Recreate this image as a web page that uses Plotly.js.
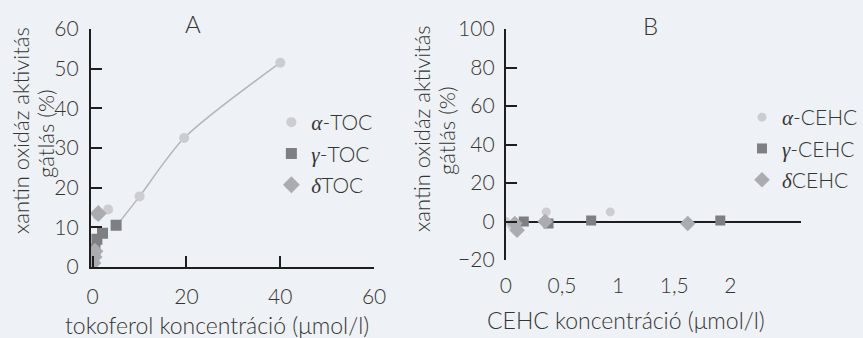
<!DOCTYPE html>
<html><head><meta charset="utf-8">
<script src="https://cdn.plot.ly/plotly-3.0.1.min.js"></script>
<style>html,body{margin:0;padding:0;background:#eef1f5;}</style>
</head><body><div id="chart" style="width:863px;height:338px;"></div>
<script>
// Panel A: tocopherols
const alphaTocX = [0.1, 0.25, 0.5, 1, 3.3, 10, 19.5, 40];
const alphaTocY = [1.5, 3, 5, 13, 14.5, 17.8, 32.5, 51.5];
const gammaTocX = [0.1, 0.5, 0.9, 2.1, 5];
const gammaTocY = [2, 4.5, 7, 8.5, 10.5];
const deltaTocX = [0.05, 0.3, 0.5, 1.2];
const deltaTocY = [1, 2.5, 4, 13.5];
const fitTocX = [5.5, 10, 19.5, 40];
const fitTocY = [11, 17.8, 32.5, 51.5];
// Panel B: CEHC metabolites
const alphaCehcX = [0, 0.05, 0.36, 0.93];
const alphaCehcY = [0, -2, 5, 5];
const gammaCehcX = [0.16, 0.38, 0.76, 1.91];
const gammaCehcY = [0, -1, 0.5, 0.5];
const deltaCehcX = [0.08, 0.1, 0.35, 1.62];
const deltaCehcY = [-1, -4.5, 0, -1];
// tick labels
const tickAVals = [0, 20, 40, 60];
const tickAYVals = [0, 10, 20, 30, 40, 50, 60];
const tickBVals = [0, 0.5, 1, 1.5, 2];
const tickBText = ['0', '0,5', '1', '1,5', '2'];
const tickBYVals = [-20, 0, 20, 40, 60, 80, 100];

const FONT = 'Lato, "Open Sans", sans-serif';
const TXT = '#353535';
const WT = 300;
const g = s => '<span style="font-family:\'Liberation Serif\';font-weight:normal"><i>' + s + '</i></span>';

const cA = '#cbcdd0', cG = '#7d7f82', cD = '#aaacaf';

const traces = [
  {x: fitTocX, y: fitTocY, mode: 'lines', line: {color: '#b4b6b9', width: 1.5, shape: 'spline', smoothing: 0.8},
   showlegend: false, hoverinfo: 'skip', xaxis: 'x', yaxis: 'y'},
  {x: alphaTocX, y: alphaTocY, mode: 'markers', name: g('α') + '-TOC', legend: 'legend', legendgroup: 'a1',
   marker: {symbol: 'circle', size: 10, color: cA}, xaxis: 'x', yaxis: 'y'},
  {x: gammaTocX, y: gammaTocY, mode: 'markers', name: g('γ') + '-TOC', legend: 'legend', legendgroup: 'g1',
   marker: {symbol: 'square', size: 11, color: cG}, xaxis: 'x', yaxis: 'y'},
  {x: deltaTocX, y: deltaTocY, mode: 'markers', name: g('δ') + 'TOC', legend: 'legend', legendgroup: 'd1',
   marker: {symbol: 'diamond', size: 13, color: cD}, xaxis: 'x', yaxis: 'y'},
  {x: alphaCehcX, y: alphaCehcY, mode: 'markers', name: g('α') + '-CEHC', legend: 'legend2', legendgroup: 'a2',
   marker: {symbol: 'circle', size: 9, color: cA}, xaxis: 'x2', yaxis: 'y2'},
  {x: gammaCehcX, y: gammaCehcY, mode: 'markers', name: g('γ') + '-CEHC', legend: 'legend2', legendgroup: 'g2',
   marker: {symbol: 'square', size: 10, color: cG}, xaxis: 'x2', yaxis: 'y2'},
  {x: deltaCehcX, y: deltaCehcY, mode: 'markers', name: g('δ') + 'CEHC', legend: 'legend2', legendgroup: 'd2',
   marker: {symbol: 'diamond', size: 12, color: cD}, xaxis: 'x2', yaxis: 'y2'}
];

const W = 863, H = 338;
const px = v => v / W, py = v => 1 - v / H;

const axBase = {showgrid: false, zeroline: false, showline: true, linecolor: '#1e1e1e', linewidth: 2,
  ticks: 'inside', tickcolor: '#1e1e1e', tickwidth: 2, ticklen: 11,
  tickfont: {family: FONT, size: 21, color: TXT, weight: WT}, fixedrange: true};

const ann = (text, x, y, size, angle) => ({text: text, x: px(x), y: py(y), xref: 'paper', yref: 'paper',
  xanchor: 'center', yanchor: 'middle', showarrow: false, textangle: angle || 0,
  font: {family: FONT, size: size, color: TXT, weight: WT}});

const layout = {
  width: W, height: H,
  margin: {l: 0, r: 0, t: 0, b: 0},
  paper_bgcolor: '#eef1f5', plot_bgcolor: 'rgba(0,0,0,0)',
  font: {family: FONT, color: TXT},
  xaxis: Object.assign({}, axBase, {domain: [px(91), px(375)], range: [-0.4, 60], anchor: 'y',
    tickvals: tickAVals, ticklabelstandoff: 10}),
  yaxis: Object.assign({}, axBase, {domain: [py(267), py(29)], range: [0, 60], anchor: 'x',
    tickvals: tickAYVals, ticklabelstandoff: 6}),
  xaxis2: Object.assign({}, axBase, {domain: [px(507), px(803)], range: [0, 2.63], anchor: 'y2',
    showline: false, ticks: '', tickvals: tickBVals, ticktext: tickBText, ticklabelstandoff: 11}),
  yaxis2: Object.assign({}, axBase, {domain: [py(260), py(29)], range: [-20, 100], anchor: 'x2',
    tickvals: tickBYVals, ticklabelstandoff: 5,
    zeroline: true, zerolinecolor: '#1e1e1e', zerolinewidth: 2}),
  legend: {x: px(272), y: py(102), xanchor: 'left', yanchor: 'top', bgcolor: 'rgba(0,0,0,0)',
    traceorder: 'grouped', tracegroupgap: 1, itemwidth: 30,
    font: {family: FONT, size: 21, color: TXT, weight: WT}},
  legend2: {x: px(744), y: py(97), xanchor: 'left', yanchor: 'top', bgcolor: 'rgba(0,0,0,0)',
    traceorder: 'grouped', tracegroupgap: 1, itemwidth: 30,
    font: {family: FONT, size: 21, color: TXT, weight: WT}},
  annotations: [
    ann('A', 193, 23, 24),
    ann('B', 652, 25, 24),
    ann('xantin oxidáz aktivitás', 20, 130, 22, -90),
    ann('gátlás (%)', 45, 133, 22, -90),
    ann('xantin oxidáz aktivitás', 422, 129, 22, -90),
    ann('gátlás (%)', 447, 130, 22, -90),
    ann('tokoferol koncentráció (μmol/l)', 218, 325, 23),
    ann('CEHC koncentráció (μmol/l)', 627, 320, 23)
  ]
};

Plotly.newPlot('chart', traces, layout, {displayModeBar: false, staticPlot: true});
</script></body></html>
